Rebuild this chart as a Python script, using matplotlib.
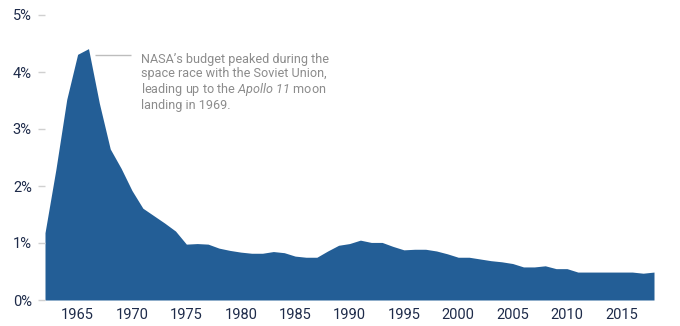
import matplotlib
matplotlib.use("Agg")
import matplotlib.pyplot as plt
from matplotlib.ticker import FuncFormatter

# NASA budget as a share of the federal budget, fiscal years 1962-2018 (%)
years = list(range(1962, 2019))
share = [1.18, 2.29, 3.52, 4.31, 4.41, 3.45, 2.65, 2.31, 1.92, 1.61,
         1.48, 1.35, 1.21, 0.98, 0.99, 0.98, 0.91, 0.87, 0.84, 0.82,
         0.82, 0.85, 0.83, 0.77, 0.75, 0.75, 0.86, 0.96, 0.99, 1.05,
         1.01, 1.01, 0.94, 0.88, 0.89, 0.89, 0.86, 0.81, 0.75, 0.75,
         0.72, 0.69, 0.67, 0.64, 0.58, 0.58, 0.60, 0.55, 0.55, 0.49,
         0.49, 0.49, 0.49, 0.49, 0.49, 0.47, 0.49]

x_ticks = [1965, 1970, 1975, 1980, 1985, 1990, 1995, 2000, 2005, 2010, 2015]
y_ticks = [0, 1, 2, 3, 4, 5]

note = ("NASA\u2019s budget peaked during the\n"
        "space race with the Soviet Union,\n"
        "leading up to the $\\mathrm{Apollo\\ 11}$ moon\n"
        "landing in 1969.")

fill_color = "#235E96"
label_color = "#1E2B4A"
note_color = "#8C8C8C"

plt.rcParams["font.family"] = ["Roboto", "DejaVu Sans"]
# the math segment of the note holds the italic mission name
plt.rcParams["mathtext.fontset"] = "custom"
plt.rcParams["mathtext.rm"] = "Roboto:italic"
plt.rcParams["mathtext.it"] = "Roboto:italic"

fig = plt.figure(figsize=(6.8, 3.26), dpi=100)
ax = fig.add_axes([45 / 680, 26 / 326, 609 / 680, 285 / 326])

ax.fill_between(years, share, 0, color=fill_color, linewidth=0)

ax.set_xlim(years[0], years[-1])
ax.set_ylim(0, 5)
ax.set_xticks(x_ticks)
ax.set_yticks(y_ticks)
ax.yaxis.set_major_formatter(FuncFormatter(lambda v, _: f"{v:.0f}%"))

for side in ax.spines.values():
    side.set_visible(False)

ax.tick_params(axis="y", length=5, width=1, color="#D0D0D0", pad=4.5,
               labelsize=10.5, labelcolor=label_color)
ax.tick_params(axis="x", length=0, pad=6, labelsize=10.5, labelcolor=label_color)

# leader line from the peak to the note
peak_year = years[share.index(max(share))]
leader_y = 4.30
ax.plot([peak_year + 0.6, 1969.95], [leader_y, leader_y],
        color="#BDBDBD", lw=1, solid_capstyle="butt")
ax.text(1970.8, 4.33, note, fontsize=9.1, color=note_color,
        va="top", ha="left", linespacing=1.08)

fig.savefig("out.png", dpi=100)
